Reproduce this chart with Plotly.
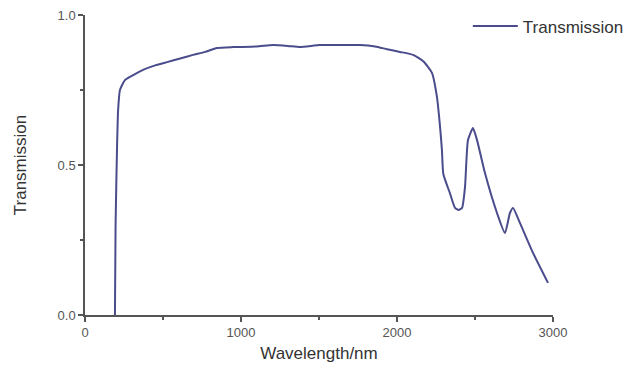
import plotly.graph_objects as go

wavelength = [192, 196, 205, 212, 224, 256, 300, 372, 450, 526, 610, 692, 770, 846, 950,
              1100, 1205, 1300, 1378, 1506, 1650, 1763, 1860, 1936, 2019, 2103, 2170, 2224,
              2256, 2276, 2288, 2297, 2340, 2372, 2395, 2417, 2436, 2455, 2487, 2513, 2564,
              2641, 2692, 2724, 2744, 2788, 2872, 2968]
transmission = [0.0, 0.3, 0.55, 0.68, 0.75, 0.783, 0.797, 0.817, 0.832, 0.843, 0.855, 0.867,
                 0.877, 0.89, 0.893, 0.895, 0.9, 0.897, 0.893, 0.9, 0.9, 0.9, 0.895, 0.886,
                 0.877, 0.867, 0.845, 0.807, 0.727, 0.627, 0.55, 0.47, 0.405, 0.357, 0.35,
                 0.357, 0.427, 0.583, 0.623, 0.583, 0.473, 0.34, 0.273, 0.34, 0.357, 0.307,
                 0.207, 0.107]

x_ticks = [0, 1000, 2000, 3000]
y_ticks = [0.0, 0.5, 1.0]
y_tick_labels = ["0.0", "0.5", "1.0"]

FONT = "Liberation Sans, Arial, sans-serif"

fig = go.Figure()
fig.add_trace(go.Scatter(
    x=wavelength, y=transmission, mode="lines", name="Transmission",
    line=dict(color="#4a4c8c", width=2, shape="spline", smoothing=0.5),
))

axis_common = dict(
    showgrid=False, zeroline=False, showline=True, linecolor="#555", linewidth=1.5,
    ticks="outside", ticklen=5, tickcolor="#555", tickwidth=1.5,
    tickfont=dict(family=FONT, size=13, color="#555"),
    title_font=dict(family=FONT, size=17, color="#333"),
    ticklabeloverflow="allow",
)

fig.update_xaxes(
    range=[0, 3000], tickvals=x_ticks, title_text="Wavelength/nm", title_standoff=8,
    minor=dict(dtick=500, ticks="outside", ticklen=3, tickcolor="#555"),
    **axis_common,
)
fig.update_yaxes(
    range=[0, 1], tickvals=y_ticks, ticktext=y_tick_labels, title_text="Transmission",
    title_standoff=27,
    minor=dict(dtick=0.25, ticks="outside", ticklen=3, tickcolor="#555"),
    **axis_common,
)

fig.update_layout(
    width=634, height=369,
    margin=dict(l=77, r=89, t=7, b=62, autoexpand=False),
    plot_bgcolor="white", paper_bgcolor="white",
    showlegend=True,
    legend=dict(x=0.818, y=1.022, xanchor="left", yanchor="top", bgcolor="rgba(0,0,0,0)",
                itemwidth=45,
                font=dict(family=FONT, size=17, color="#333")),
)

fig.write_html("out.html")
